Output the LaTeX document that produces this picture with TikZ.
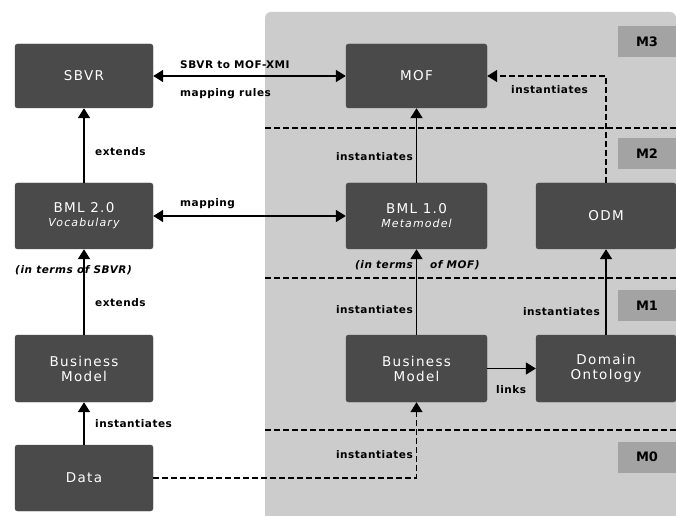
\documentclass[tikz,border=0pt]{standalone}
\usepackage{fontspec}
\setmainfont{DejaVu Sans}
\newfontfamily\boxfont[LetterSpace=10]{DejaVu Sans}
\newfontfamily\lblfont[LetterSpace=5]{DejaVu Sans}
\usetikzlibrary{arrows.meta}
\definecolor{boxgray}{HTML}{4A4A4A}
\definecolor{layergray}{HTML}{CCCCCC}
\definecolor{mgray}{HTML}{A3A3A3}
\tikzset{
  mbox/.style={rectangle, rounded corners=2.5pt, fill=boxgray, draw=boxgray, text=white,
    font=\boxfont\fontsize{13.5}{15}\selectfont, align=center, inner sep=0pt},
  lvl/.style={rectangle, fill=mgray, minimum width=58pt, minimum height=31pt, inner sep=0pt,
    font=\bfseries\fontsize{13}{15}\selectfont},
  lbl/.style={font=\lblfont\bfseries\fontsize{10.5}{12}\selectfont, inner sep=0pt},
  ilbl/.style={font=\lblfont\bfseries\itshape\fontsize{10.5}{12}\selectfont, inner sep=0pt},
  conn/.style={line width=1.8pt, -{Triangle[length=10pt,width=12pt]}},
  biconn/.style={line width=1.8pt, {Triangle[length=10pt,width=12pt]}-{Triangle[length=10pt,width=12pt]}},
  dconn/.style={line width=1.5pt, dash pattern=on 6pt off 3pt, -{Triangle[length=10pt,width=12pt]}},
  sep/.style={line width=1.5pt, dash pattern=on 6pt off 3pt}
}
\begin{document}
\begin{tikzpicture}[x=1pt,y=-1pt]
\useasboundingbox (0,0) rectangle (676,518);
% layer area
\fill[layergray, rounded corners=6pt] (265,40) -- (265,12) -- (676,12) -- (676,40) -- cycle;
\fill[layergray] (265,30) rectangle (676,516);
% level separators
\draw[sep] (265,128) -- (676,128);
\draw[sep] (265,278) -- (676,278);
\draw[sep] (265,430) -- (676,430);
% level labels
\node[lvl] (m3) at (647,41.5) {M3};
\node[lvl] (m2) at (647,154) {M2};
\node[lvl] (m1) at (647,305.5) {M1};
\node[lvl] (m0) at (647,457) {M0};
% boxes
\node[mbox, minimum width=138pt, minimum height=64pt] (sbvr) at (84,76) {SBVR};
\node[mbox, minimum width=138pt, minimum height=66pt] (bml2) at (84,216) {BML 2.0\\[-1pt]{\itshape\fontsize{11}{13}\selectfont Vocabulary}};
\node[mbox, minimum width=138pt, minimum height=67pt] (bml) at (84,368.5) {Business\\Model};
\node[mbox, minimum width=138pt, minimum height=66pt] (data) at (84,478) {Data};
\node[mbox, minimum width=141pt, minimum height=64pt] (mof) at (416.5,76) {MOF};
\node[mbox, minimum width=141pt, minimum height=66pt] (bml1) at (416.5,216) {BML 1.0\\[-1pt]{\itshape\fontsize{11}{13}\selectfont Metamodel}};
\node[mbox, minimum width=140pt, minimum height=66pt] (odm) at (606,216) {ODM};
\node[mbox, minimum width=141pt, minimum height=67pt] (bmr) at (416.5,368.5) {Business\\Model};
\node[mbox, minimum width=140pt, minimum height=67pt] (dom) at (606,368.5) {Domain\\Ontology};
% connectors
\draw[biconn] (sbvr) -- (mof);
\draw[biconn] (bml2) -- (bml1);
\draw[conn] (bml2) -- (sbvr);
\draw[conn] (bml) -- (bml2);
\draw[conn] (data) -- (bml);
\draw[conn] (bml1) -- (mof);
\draw[conn] (bmr) -- (bml1);
\draw[conn] (bmr) -- (dom);
\draw[conn] (dom) -- (odm);
\draw[dconn] (odm.north) |- (mof.east);
\draw[dconn] (data.east) -| (bmr.south);
% labels
\node[lbl, anchor=west] (l1) at (180,65) {SBVR to MOF-XMI};
\node[lbl, anchor=west] (l2) at (180,94) {mapping rules};
\node[lbl, anchor=west] (l3) at (180,204) {mapping};
\node[lbl, anchor=west] (l4) at (95,152) {extends};
\node[ilbl, anchor=west] (l5) at (15,270) {(in terms of SBVR)};
\node[lbl, anchor=west] (l6) at (95,303) {extends};
\node[lbl, anchor=west] (l7) at (95,424) {instantiates};
\node[lbl, anchor=east] (l8) at (413,157) {instantiates};
\node[ilbl, anchor=east] (l9) at (413,265) {(in terms};
\node[ilbl, anchor=west] (l10) at (430,265) {of MOF)};
\node[lbl, anchor=east] (l11) at (413,310) {instantiates};
\node[lbl, anchor=east] (l12) at (413,455) {instantiates};
\node[lbl, anchor=west] (l13) at (496,390) {links};
\node[lbl, anchor=east] (l14) at (600,312) {instantiates};
\node[lbl, anchor=west] (l15) at (511,90) {instantiates};
\end{tikzpicture}
\end{document}
